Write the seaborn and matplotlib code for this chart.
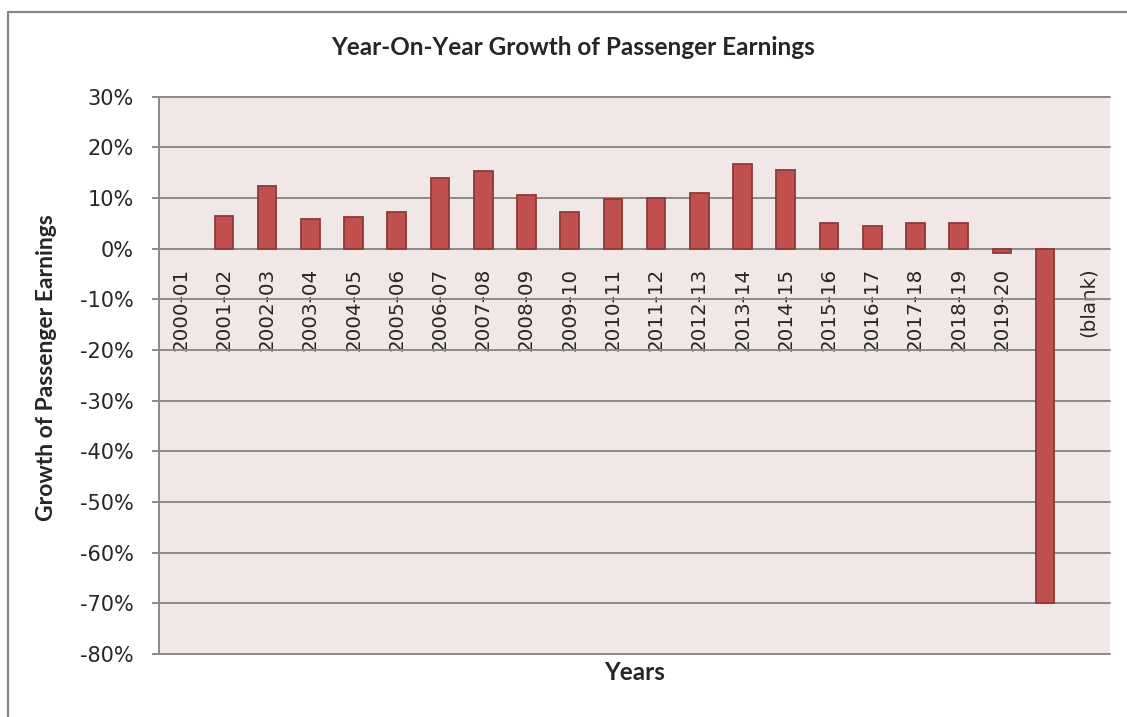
import matplotlib
matplotlib.use("Agg")
import matplotlib.pyplot as plt
from matplotlib.lines import Line2D
from matplotlib.ticker import FuncFormatter
import numpy as np
import pandas as pd
import seaborn as sns

# Fiscal years on the category axis
years = ["2000-01", "2001-02", "2002-03", "2003-04", "2004-05", "2005-06",
         "2006-07", "2007-08", "2008-09", "2009-10", "2010-11", "2011-12",
         "2012-13", "2013-14", "2014-15", "2015-16", "2016-17", "2017-18",
         "2018-19", "2019-20", "2020-21", "(blank)"]

# Year-on-year growth of passenger earnings, in percent (None = no value)
growth = [None, 6.5, 12.4, 5.8, 6.2, 7.2, 13.9, 15.3, 10.6, 7.2, 9.8, 10.0,
          10.9, 16.7, 15.6, 5.0, 4.5, 5.1, 5.0, -0.9, -70.0, None]

y_ticks = list(range(-80, 31, 10))

sns.set_style("white")
plt.rcParams["font.family"] = ["DejaVu Sans"]
plt.rcParams["axes.unicode_minus"] = False

df = pd.DataFrame({"year": years, "growth": growth}).dropna()

fig = plt.figure(figsize=(11.27, 7.17), dpi=100)
ax = fig.add_axes([0.1411, 0.0879, 0.8438, 0.7772])
ax.set_facecolor("#F2E7E7")

grid_col = "#8A8A8A"

sns.barplot(data=df, x="year", y="growth", order=years, color="#C0504D",
            saturation=1, width=0.43, edgecolor="#8E3A37", linewidth=1.3,
            ax=ax, zorder=3)

ax.set_ylim(-80, 30)
ax.set_xlim(-0.5, len(years) - 0.5)
ax.set_yticks(y_ticks)
ax.yaxis.set_major_formatter(FuncFormatter(lambda v, p: f"{v:.0f}%"))

# horizontal gridlines
for v in y_ticks:
    ax.axhline(v, color=grid_col, lw=1.4, zorder=1, clip_on=False)

# category labels hang just below the zero line
ax.spines["bottom"].set_position(("data", 0))
ax.spines["bottom"].set_visible(False)
ax.spines["top"].set_visible(False)
ax.spines["right"].set_visible(False)
ax.spines["left"].set_color(grid_col)
ax.spines["left"].set_linewidth(1.4)

ax.tick_params(axis="x", length=0, pad=13.5, labelsize=14.3, labelrotation=90)
ax.tick_params(axis="y", length=5, width=1.4, color=grid_col, direction="out",
               pad=13, labelsize=15, left=True)
for lab in ax.get_xticklabels():
    lab.set_va("top")
    lab.set_fontfamily("DejaVu Sans")
for lab in ax.get_yticklabels():
    lab.set_fontfamily("DejaVu Sans")
ax.set_xlabel("")
ax.set_ylabel("")

# titles
bold_font = ["Lato", "DejaVu Sans"]
fig.text(0.508, 0.9344, "Year-On-Year Growth of Passenger Earnings",
         ha="center", va="center", fontsize=17.5, fontweight="bold",
         family=bold_font)
fig.text(0.0417, 0.4874, "Growth of Passenger Earnings", rotation=90,
         ha="center", va="center", fontsize=16.5, fontweight="bold",
         family=bold_font)
fig.text(0.5634, 0.0614, "Years", ha="center", va="center", fontsize=17.5,
         fontweight="bold", family=bold_font)

# chart frame (left and top edges)
x0 = 7.5 / 1127
y0 = 1 - 11.5 / 717
fig.add_artist(Line2D([x0, x0], [-0.01, y0], transform=fig.transFigure,
                      color="#878787", lw=1.6))
fig.add_artist(Line2D([x0, 1.01], [y0, y0], transform=fig.transFigure,
                      color="#878787", lw=1.6))

fig.savefig("out.png", dpi=100)
